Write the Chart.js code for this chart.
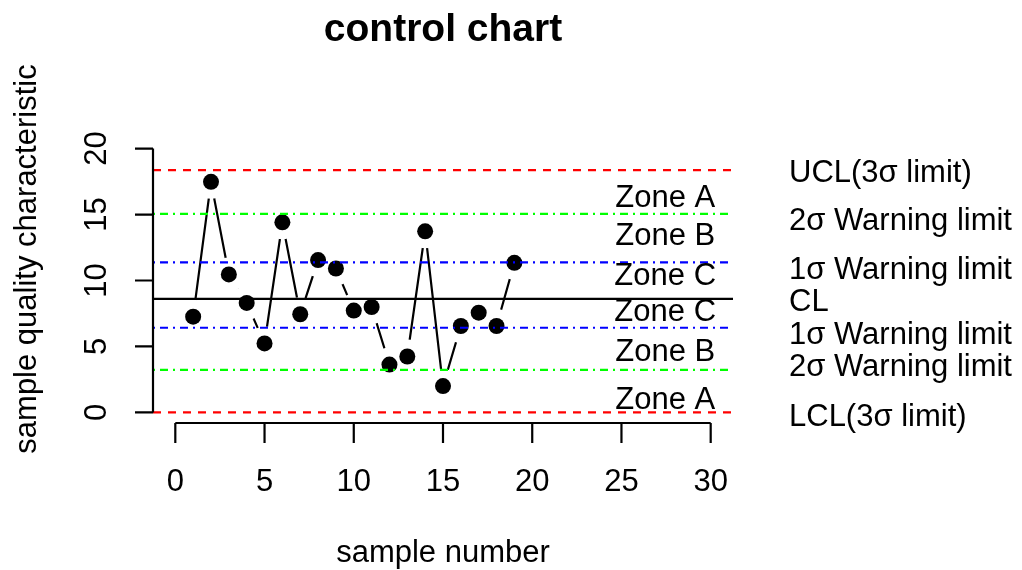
<!DOCTYPE html>
<html>
<head>
<meta charset="utf-8">
<title>control chart</title>
<script src="https://cdn.jsdelivr.net/npm/chart.js@4/dist/chart.umd.min.js"></script>
<style>
  html, body { margin: 0; padding: 0; background: #fff; }
  #wrap { width: 1022px; height: 570px; }
</style>
</head>
<body>
<div id="wrap"><canvas id="chart" width="1022" height="570"></canvas></div>
<script>
// Sample data
const sampleNumbers = [1, 2, 3, 4, 5, 6, 7, 8, 9, 10, 11, 12, 13, 14, 15, 16, 17, 18, 19];
const sampleValues = [7.26, 17.48, 10.46, 8.3, 5.23, 14.41, 7.44, 11.55, 10.91, 7.72, 7.99, 3.63, 4.24, 13.73, 2.0, 6.55, 7.56, 6.55, 11.34];

// Control / warning limits, top to bottom
const limitNames = ['UCL(3σ limit)', '2σ Warning limit', '1σ Warning limit', 'CL', '1σ Warning limit', '2σ Warning limit', 'LCL(3σ limit)'];
const limitValues = [18.37, 15.05, 11.37, 8.6, 6.42, 3.22, 0];
const limitLabelY = [18.09, 14.46, 10.78, 8.37, 5.84, 3.42, -0.38];

// Zone labels inside the plot
const zoneNames = ['Zone A', 'Zone B', 'Zone C', 'Zone C', 'Zone B', 'Zone A'];
const zoneLabelY = [16.2, 13.35, 10.27, 7.61, 4.57, 0.89];
const zoneLabelX = 27.45;

// Axis ticks
const xTicks = [0, 5, 10, 15, 20, 25, 30];
const yTicks = [0, 5, 10, 15, 20];

const xMin = -1.25, xMax = 31.25;
const yMin = -0.8, yMax = 20.8;

const FONT = '"Liberation Sans", Arial, sans-serif';

// style of each limit line
const limitStyle = (i) => {
  if (i === 0 || i === 6) return { color: '#ff0000', dash: [8, 7] };
  if (i === 1 || i === 5) return { color: '#00ff00', dash: [2, 5, 8, 5] };
  if (i === 2 || i === 4) return { color: '#0000ff', dash: [2, 5, 8, 5] };
  return { color: '#000000', dash: [] };
};

const points = sampleNumbers.map((n, i) => ({ x: n, y: sampleValues[i] }));

const limitDatasets = limitValues.map((v, i) => {
  const s = limitStyle(i);
  return {
    data: [{ x: xMin, y: v }, { x: xMax, y: v }],
    showLine: true,
    borderColor: s.color,
    borderDash: s.dash,
    borderWidth: 2.2,
    pointRadius: 0,
    order: 0
  };
});

// draws axes, tick labels and all text like R's base graphics
const textPlugin = {
  id: 'rText',
  afterDraw(chart) {
    const ctx = chart.ctx;
    const xs = chart.scales.x;
    const ys = chart.scales.y;
    const area = chart.chartArea;
    ctx.save();
    ctx.strokeStyle = '#000';
    ctx.fillStyle = '#000';
    ctx.lineWidth = 2.2;
    ctx.setLineDash([]);

    // x axis
    const xa = area.bottom;
    ctx.beginPath();
    ctx.moveTo(xs.getPixelForValue(xTicks[0]), xa);
    ctx.lineTo(xs.getPixelForValue(xTicks[xTicks.length - 1]), xa);
    xTicks.forEach((t) => {
      const px = xs.getPixelForValue(t);
      ctx.moveTo(px, xa);
      ctx.lineTo(px, xa + 20);
    });
    ctx.stroke();

    // y axis
    const ya = area.left;
    ctx.beginPath();
    ctx.moveTo(ya, ys.getPixelForValue(yTicks[0]));
    ctx.lineTo(ya, ys.getPixelForValue(yTicks[yTicks.length - 1]));
    yTicks.forEach((t) => {
      const py = ys.getPixelForValue(t);
      ctx.moveTo(ya, py);
      ctx.lineTo(ya - 18, py);
    });
    ctx.stroke();

    ctx.font = '31px ' + FONT;
    ctx.textBaseline = 'middle';
    ctx.textAlign = 'center';
    xTicks.forEach((t) => {
      ctx.fillText(String(t), xs.getPixelForValue(t), 482);
    });
    yTicks.forEach((t) => {
      ctx.save();
      ctx.translate(97, ys.getPixelForValue(t));
      ctx.rotate(-Math.PI / 2);
      ctx.fillText(String(t), 0, 0);
      ctx.restore();
    });

    // axis titles
    ctx.fillText('sample number', (area.left + area.right) / 2, 553);
    ctx.save();
    ctx.translate(27, 259);
    ctx.rotate(-Math.PI / 2);
    ctx.fillText('sample quality characteristic', 0, 0);
    ctx.restore();

    // zone labels
    zoneNames.forEach((z, i) => {
      ctx.fillText(z, xs.getPixelForValue(zoneLabelX), ys.getPixelForValue(zoneLabelY[i]));
    });

    // limit labels in the right margin
    ctx.textAlign = 'left';
    limitNames.forEach((n, i) => {
      ctx.fillText(n, 789, ys.getPixelForValue(limitLabelY[i]));
    });

    // title
    ctx.textAlign = 'center';
    ctx.font = 'bold 39px ' + FONT;
    ctx.fillText('control chart', (area.left + area.right) / 2, 30);
    ctx.restore();
  }
};

new Chart(document.getElementById('chart'), {
  type: 'scatter',
  data: {
    datasets: [
      ...limitDatasets,
      {
        // filled points
        data: points,
        pointRadius: 8,
        pointBackgroundColor: '#000',
        pointBorderWidth: 0,
        showLine: false,
        order: 1
      },
      {
        // white gap around points (type = "b")
        data: points,
        pointRadius: 17,
        pointBackgroundColor: '#fff',
        pointBorderWidth: 0,
        showLine: false,
        order: 2
      },
      {
        data: points,
        showLine: true,
        borderColor: '#000',
        borderWidth: 2.2,
        pointRadius: 0,
        order: 3
      }
    ]
  },
  options: {
    responsive: false,
    animation: false,
    events: [],
    layout: { padding: { left: 153, right: 289, top: 138, bottom: 147 } },
    scales: {
      x: { type: 'linear', min: xMin, max: xMax, display: false },
      y: { type: 'linear', min: yMin, max: yMax, display: false }
    },
    plugins: {
      legend: { display: false },
      tooltip: { enabled: false }
    }
  },
  plugins: [textPlugin]
});
</script>
</body>
</html>
